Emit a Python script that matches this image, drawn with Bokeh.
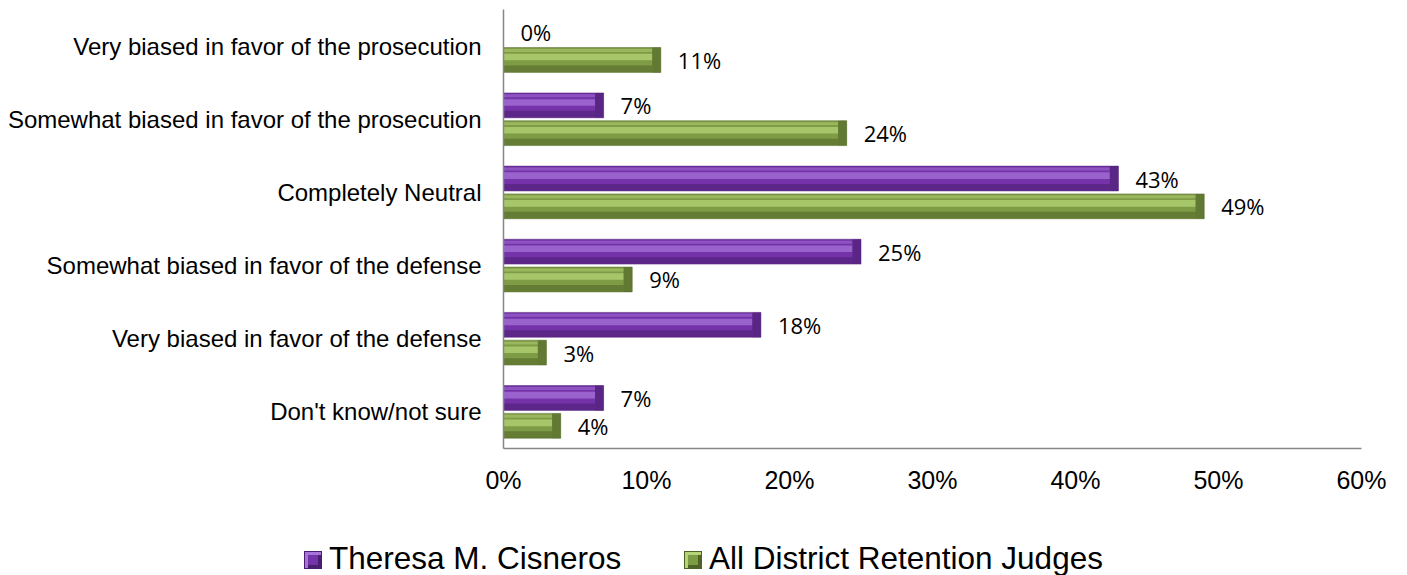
from bokeh.plotting import figure
from bokeh.layouts import column
from bokeh.models import ColumnDataSource, FactorRange, Range1d, PrintfTickFormatter, FixedTicker, Div
from bokeh.transform import dodge
from bokeh.core.properties import value
from bokeh.embed import file_html
from bokeh.resources import INLINE

categories = [
    "Very biased in favor of the prosecution",
    "Somewhat biased in favor of the prosecution",
    "Completely Neutral",
    "Somewhat biased in favor of the defense",
    "Very biased in favor of the defense",
    "Don't know/not sure",
]
cisneros = [0, 7, 43, 25, 18, 7]
all_judges = [11, 24, 49, 9, 3, 4]
series_names = ["Theresa M. Cisneros", "All District Retention Judges"]
x_ticks = [0, 10, 20, 30, 40, 50, 60]

BEVEL = 0.6  # data-units width of the right-end bevel

def make_src(vals):
    return ColumnDataSource(dict(
        cat=categories,
        val=vals,
        hl=[max(v - BEVEL, 0) for v in vals],
        lab=[f"{v}%" for v in vals],
    ))

src_p = make_src(cisneros)
src_g = make_src(all_judges)

p = figure(
    frame_width=858, frame_height=439,
    y_range=FactorRange(factors=list(reversed(categories)), range_padding=0),
    x_range=Range1d(0, 60),
    output_backend="svg", toolbar_location=None,
    min_border_left=503, min_border_top=9, min_border_right=38, min_border_bottom=52,
)
p.outline_line_color = None
p.grid.grid_line_color = None
p.background_fill_color = "white"

styles = [
    (0.19, "#7433A8", "#A673D8", "#4A1E70"),
    (-0.19, "#7E9B45", "#B5D477", "#4E6326"),
]
H = 0.34
for src, (off, mid, light, dark) in zip([src_p, src_g], styles):
    p.hbar(y=dodge("cat", off, range=p.y_range), right="val", left=0, height=H,
           source=src, fill_color=mid, line_color=dark, line_width=0.8, line_alpha=0.6)
    p.hbar(y=dodge("cat", off + 0.13, range=p.y_range), right="hl", left=0, height=0.04,
           source=src, fill_color=light, fill_alpha=0.5, line_color=None)
    p.hbar(y=dodge("cat", off + 0.04, range=p.y_range), right="hl", left=0, height=0.09,
           source=src, fill_color=light, fill_alpha=0.75, line_color=None)
    p.hbar(y=dodge("cat", off - 0.12, range=p.y_range), right="hl", left=0, height=0.09,
           source=src, fill_color=dark, fill_alpha=0.55, line_color=None)
    p.hbar(y=dodge("cat", off, range=p.y_range), right="val", left="hl", height=H,
           source=src, fill_color=dark, fill_alpha=0.6, line_color=None)
    p.text(x="val", y=dodge("cat", off, range=p.y_range), text="lab", source=src,
           x_offset=17, text_align="left", text_baseline="middle",
           text_font=value("Open Sans"), text_font_size="22px", text_color="#000000")

p.xaxis.ticker = FixedTicker(ticks=x_ticks)
p.xaxis.formatter = PrintfTickFormatter(format="%d%%")
p.xaxis.major_label_text_font = "Liberation Sans"
p.xaxis.major_label_text_font_size = "25px"
p.xaxis.major_label_text_color = "#000000"
p.xaxis.major_label_standoff = 11
p.xaxis.major_tick_line_color = None
p.xaxis.minor_tick_line_color = None
p.xaxis.axis_line_color = "#868686"
p.xaxis.axis_line_width = 1.5

p.yaxis.major_label_text_font = "Liberation Sans"
p.yaxis.major_label_text_font_size = "24px"
p.yaxis.major_label_text_color = "#000000"
p.yaxis.major_label_standoff = 16
p.yaxis.major_tick_line_color = None
p.yaxis.minor_tick_line_color = None
p.yaxis.axis_line_color = "#868686"
p.yaxis.axis_line_width = 1.5

# legend strip below the chart (real text, HTML)
legend_left = [304, 684]
parts = []
for i, (off, mid, light, dark) in enumerate(styles):
    x0 = legend_left[i]
    parts.append(
        f'<span style="position:absolute;left:{x0}px;top:51px;width:18px;height:18px;'
        f'box-sizing:border-box;background:{mid};border:1px solid {dark};'
        f'box-shadow:inset 3px 3px 0 {light}, inset -3px -3px 0 {dark};"></span>'
        f'<span style="position:absolute;left:{x0 + 25}px;top:43px;line-height:30px;'
        f'white-space:nowrap;">{series_names[i]}</span>'
    )
html = ('<div style="position:relative;width:1399px;height:75px;'
        'font-family:\'Liberation Sans\',Arial,sans-serif;font-size:31.5px;color:#000;">'
        + "".join(parts) + '</div>')
lg = Div(text=html, width=1399, height=75, margin=0)

layout = column(p, lg, spacing=0)
open("out.html", "w").write(file_html(layout, INLINE))
